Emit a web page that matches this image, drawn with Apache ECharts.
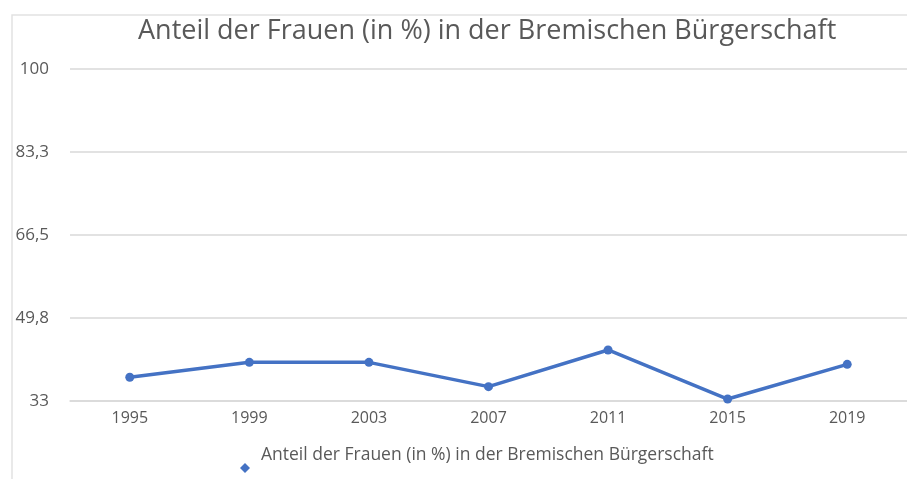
<!DOCTYPE html>
<html>
<head>
<meta charset="utf-8">
<script src="https://cdn.jsdelivr.net/npm/echarts@6/dist/echarts.min.js"></script>
<style>
  html, body { margin: 0; padding: 0; background: #fff; }
  #main { width: 907px; height: 479px; }
</style>
</head>
<body>
<div id="main"></div>
<script>
const titleText = 'Anteil der Frauen (in %) in der Bremischen Bürgerschaft';
const years = ['1995', '1999', '2003', '2007', '2011', '2015', '2019'];
const womenShare = [37.8, 40.8, 40.8, 35.9, 43.3, 33.4, 40.4];
const yMin = 33, yMax = 100, yStep = 16.75;

const fontFam = '"Open Sans", "Liberation Sans", sans-serif';
const grey = '#595959';

let chart = echarts.init(document.getElementById('main'));
chart.setOption({
    animation: false,
    backgroundColor: '#fff',
    graphic: [{
        type: 'rect',
        shape: { x: 12, y: 15, width: 920, height: 500 },
        style: { fill: 'none', stroke: '#e2e2e2', lineWidth: 1.5 },
        silent: true
    }],
    title: {
        text: titleText,
        left: 133,
        top: 13,
        textStyle: { fontFamily: fontFam, fontSize: 27, fontWeight: 'normal', color: grey }
    },
    legend: {
        top: 432,
        left: 235,
        // diamond sits lower than the text, as in the source
        icon: 'path://M5,0 L5,0 M5,26 L10,31 L5,36 L0,31 Z',
        itemWidth: 10,
        itemHeight: 36,
        itemGap: 10,
        textStyle: { fontFamily: fontFam, fontSize: 17.5, color: grey, padding: [0, 0, 0, 6] }
    },
    grid: { left: 70, right: 0, top: 69, bottom: 78 },
    xAxis: {
        type: 'category',
        data: years,
        axisLine: { lineStyle: { color: '#d9d9d9', width: 1.5 } },
        axisTick: { show: false },
        axisLabel: { fontFamily: fontFam, fontSize: 16, color: grey, margin: 9 }
    },
    yAxis: {
        type: 'value',
        min: yMin,
        max: yMax,
        interval: yStep,
        axisLine: { show: false },
        axisTick: { show: false },
        splitLine: { lineStyle: { color: '#d9d9d9', width: 1.5 } },
        axisLabel: {
            fontFamily: fontFam, fontSize: 17, color: grey, margin: 21,
            formatter: v => String(Math.round(v * 10) / 10).replace('.', ',')
        }
    },
    series: [{
        name: titleText,
        type: 'line',
        data: womenShare,
        symbol: 'circle',
        symbolSize: 9,
        lineStyle: { color: '#4472c4', width: 3.5 },
        itemStyle: { color: '#4472c4' }
    }]
});
</script>
</body>
</html>
